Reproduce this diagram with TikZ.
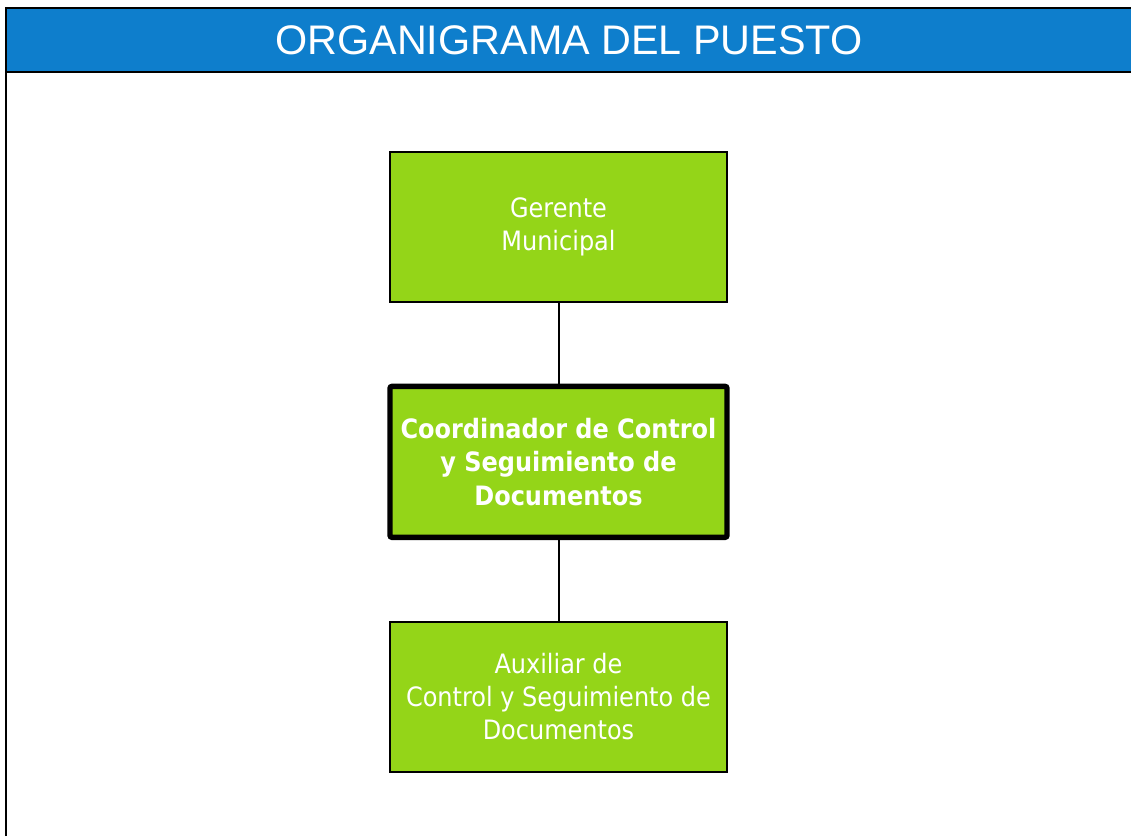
\documentclass[tikz,border=0pt]{standalone}
\usepackage{fontspec}
\setmainfont{DejaVu Sans Condensed}
\newfontfamily\titlefont{Liberation Sans}
\usepackage{tikz}
\usetikzlibrary{positioning}
\definecolor{orgblue}{RGB}{14,126,204}
\definecolor{orggreen}{RGB}{148,213,24}

\begin{document}
\begin{tikzpicture}[x=0.75pt, y=-0.75pt, node distance=60.5pt, thick]
  \tikzstyle{puesto} = [rectangle, draw=black, line width=1.5pt, fill=orggreen,
    text=white, align=center, minimum width=252.75pt, minimum height=112.5pt,
    inner sep=2pt, font=\fontsize{20}{24.75}\selectfont]
  \tikzstyle{actual} = [puesto, line width=4pt, minimum height=113.25pt,
    rounded corners=1.5pt, font=\fontsize{20}{25}\selectfont\bfseries]

  \useasboundingbox (0,0) rectangle (1131,836);

  % marco y titulo
  \fill[orgblue] (6,8) rectangle (1131,71.5);
  \draw[line width=1.5pt] (6,836) -- (6,8) -- (1131,8);
  \draw[line width=1.5pt] (6,71.5) -- (1131,71.5);
  \node[text=white, font=\titlefont\fontsize{31}{36}\selectfont] (titulo) at (569,40) {ORGANIGRAMA DEL PUESTO};

  % cargos
  \node[puesto] (gerente) at (558.5,227) {Gerente\\Municipal};
  \node[actual] (coord) [below=of gerente] {Coordinador de Control\\y Seguimiento de\\Documentos};
  \node[puesto] (auxiliar) [below=of coord] {Auxiliar de\\Control y Seguimiento de\\Documentos};

  \draw[line width=1.5pt] (gerente) -- (coord);
  \draw[line width=1.5pt] (coord) -- (auxiliar);
\end{tikzpicture}
\end{document}
